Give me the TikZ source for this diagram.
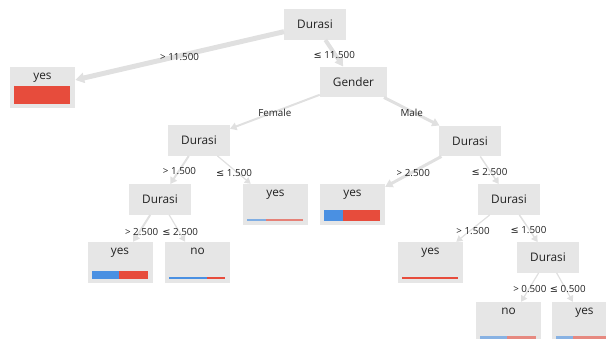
\documentclass[tikz,border=0pt]{standalone}
\usepackage{fontspec}
\setmainfont{Open Sans}
\newfontfamily\symfont{DejaVu Sans}
\usetikzlibrary{arrows.meta}
\definecolor{boxgray}{RGB}{230,230,230}
\definecolor{edgegray}{RGB}{224,224,224}
\definecolor{barblue}{RGB}{74,144,226}
\definecolor{barred}{RGB}{231,76,60}
\definecolor{txt}{RGB}{34,34,34}
\tikzset{
    %Define standard arrow tip
    >={Triangle[length=5pt 0.8,width=6pt 0.8]},
    %Define style for boxes
    split/.style={
           rectangle,
           fill=boxgray,
           text=txt,
           font=\fontsize{11.8}{14}\selectfont,
           minimum height=30.5pt,
           inner xsep=13pt,
           text centered},
    leaf/.style={
           rectangle,
           fill=boxgray,
           text=txt,
           font=\fontsize{11.8}{14}\selectfont,
           minimum width=65pt,
           inner ysep=3pt,
           text height=9pt,
           text depth=26pt},
    % Define arrow style
    pil/.style={
           ->,
           draw=edgegray,
           line width=#1},
    pil/.default=1.2pt,
    elabel/.style={
           midway,
           yshift=-1.5pt,
           text=txt,
           font=\fontsize{9.8}{12}\selectfont}
}
% class bar at the foot of a leaf: [opacity]{node}{blue}{red}{height}
\newcommand{\leafbar}[5][1]{%
  \fill[barblue,fill opacity=#1] ([xshift=4.5pt,yshift=4.5pt]#2.south west) rectangle ++(#3pt,#5pt);
  \fill[barred,fill opacity=#1] ([xshift=4.5pt+#3pt,yshift=4.5pt]#2.south west) rectangle ++(#4pt,#5pt);}

\begin{document}
\begin{tikzpicture}[x=1pt,y=-1pt]
\useasboundingbox (0,0) rectangle (606,338);
\clip (0,0) rectangle (606,338);
 %nodes
\node[split] (1) at (315,24.5) {Durasi};
\node[leaf] (2) at (42.5,87.5) {yes};
\node[split] (3) at (353.5,82) {Gender};
\node[split] (4) at (199,140.5) {Durasi};
\node[split] (5) at (470,141) {Durasi};
\node[split] (6) at (160,199.5) {Durasi};
\node[leaf] (7) at (275.5,204.5) {yes};
\node[leaf] (8) at (352.5,204.5) {yes};
\node[split] (9) at (509,199.5) {Durasi};
\node[leaf] (10) at (120,262.5) {yes};
\node[leaf] (11) at (197.5,262.5) {no};
\node[leaf] (12) at (430.5,262.5) {yes};
\node[split] (13) at (548,257.5) {Durasi};
\node[leaf] (14) at (508.5,322.5) {no};
\node[leaf] (15) at (584.5,322.5) {yes};

 %bars
\leafbar{2}{0}{56}{18}
\leafbar[0.65]{7}{19}{37}{2}
\leafbar{8}{19}{37}{11}
\leafbar{10}{27}{29}{8}
\leafbar{11}{38}{18}{2}
\leafbar{12}{0}{56}{2}
\leafbar[0.6]{14}{27}{29}{3}
\leafbar[0.6]{15}{17}{39}{3}

 %edges
\path
	(1) edge[pil=5pt] node[elabel] {> 11.500} (2)
	    edge[pil=4pt] node[elabel] {{\symfont ≤} 11.500} (3)
	(3) edge[pil=2pt] node[elabel] {Female} (4)
	    edge[pil=3pt] node[elabel] {Male} (5)
	(4) edge[pil=2pt] node[elabel] {> 1.500} (6)
	    edge[pil] node[elabel,yshift=-1.5pt] {{\symfont ≤} 1.500} (7)
	(5) edge[pil=3pt] node[elabel] {> 2.500} (8)
	    edge[pil=1.5pt] node[elabel] {{\symfont ≤} 2.500} (9)
	(6) edge[pil=2pt] node[elabel,yshift=-2pt] {> 2.500} (10)
	    edge[pil] node[elabel,xshift=3pt,yshift=-2pt] {{\symfont ≤} 2.500} (11)
	(9) edge[pil] node[elabel,yshift=-1pt] {> 1.500} (12)
	    edge[pil=1.5pt] node[elabel] {{\symfont ≤} 1.500} (13)
	(13) edge[pil] node[elabel] {> 0.500} (14)
	    edge[pil] node[elabel,xshift=3pt] {{\symfont ≤} 0.500} (15);

\end{tikzpicture}
\end{document}
